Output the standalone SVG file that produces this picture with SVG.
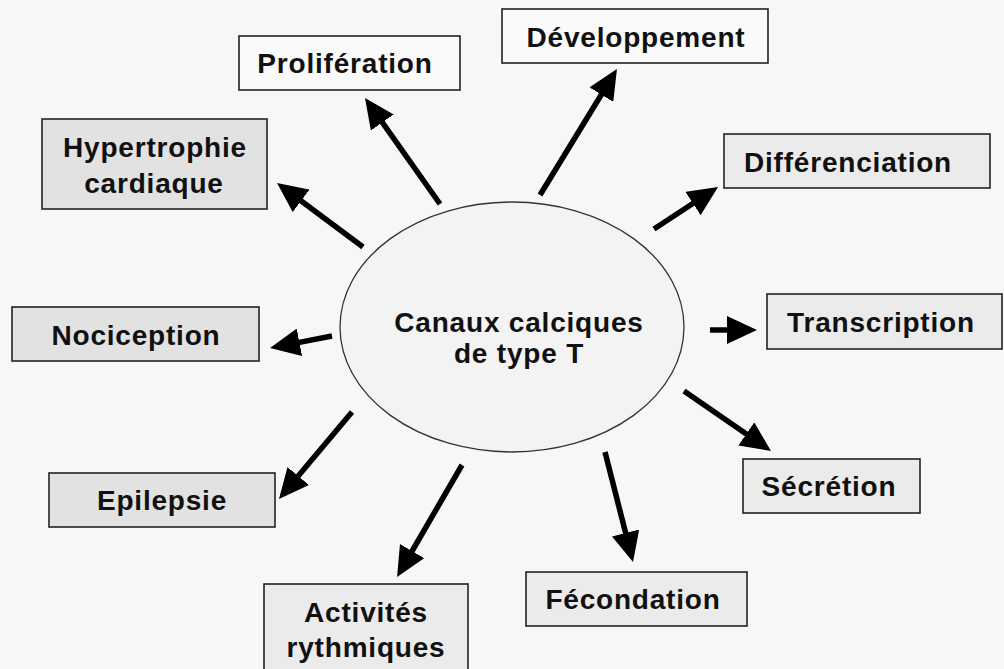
<svg xmlns="http://www.w3.org/2000/svg" width="1004" height="669" viewBox="0 0 1004 669">
<defs>
<style>
.bg{fill:#f7f7f7}
.box{stroke:#222;stroke-width:1.6}
.w{fill:#fafafa}
.g1{fill:#e2e2e2}
.g2{fill:#ebebeb}
.t{font-family:"Liberation Sans",Arial,sans-serif;font-weight:bold;font-size:28px;letter-spacing:0.8px;fill:#111;text-anchor:middle}
.arr{stroke:#000;stroke-width:5.5;fill:none;marker-end:url(#ah)}
</style>
<marker id="ah" markerUnits="userSpaceOnUse" markerWidth="30" markerHeight="28" refX="4" refY="14" orient="auto" viewBox="0 0 30 28">
<path d="M0,0 L30,14 L0,28 z" fill="#000"/>
</marker>
</defs>
<rect class="bg" x="0" y="0" width="1004" height="669"/>

<g id="center">
<ellipse cx="512" cy="327" rx="172" ry="125" fill="#f3f3f3" stroke="#333" stroke-width="1.3"/>
<text class="t" x="519" y="332">Canaux calciques</text>
<text class="t" x="519" y="363">de type T</text>
</g>

<g id="proliferation">
<rect class="box w" x="239" y="36" width="221" height="54"/>
<text class="t" x="345" y="73">Prolifération</text>
</g>
<g id="hypertrophie">
<rect class="box g1" x="42" y="119" width="225" height="90"/>
<text class="t" x="155" y="157">Hypertrophie</text>
<text class="t" x="154" y="193">cardiaque</text>
</g>
<g id="nociception">
<rect class="box g1" x="12" y="307" width="247" height="54"/>
<text class="t" x="136" y="345">Nociception</text>
</g>
<g id="epilepsie">
<rect class="box g1" x="49" y="473" width="226" height="54"/>
<text class="t" x="162" y="510">Epilepsie</text>
</g>
<g id="activites">
<rect class="box g2" x="264" y="584" width="204" height="95"/>
<text class="t" x="366" y="622">Activités</text>
<text class="t" x="366" y="657">rythmiques</text>
</g>
<g id="developpement">
<rect class="box w" x="502" y="9" width="266" height="54"/>
<text class="t" x="636" y="47">Développement</text>
</g>
<g id="differenciation">
<rect class="box g2" x="724" y="134" width="266" height="54"/>
<text class="t" x="848" y="172">Différenciation</text>
</g>
<g id="transcription">
<rect class="box g2" x="767" y="294" width="235" height="55"/>
<text class="t" x="881" y="332">Transcription</text>
</g>
<g id="secretion">
<rect class="box g2" x="743" y="459" width="177" height="54"/>
<text class="t" x="829" y="496">Sécrétion</text>
</g>
<g id="fecondation">
<rect class="box g2" x="526" y="572" width="221" height="54"/>
<text class="t" x="633" y="609">Fécondation</text>
</g>

<g id="connectors">
<line class="arr" x1="440" y1="204" x2="380" y2="119.2"/>
<line class="arr" x1="363" y1="247" x2="297.9" y2="198.5"/>
<line class="arr" x1="540" y1="195" x2="603.4" y2="91.2"/>
<line class="arr" x1="654" y1="229" x2="696.3" y2="201.3"/>
<line class="arr" x1="710" y1="330" x2="731" y2="330"/>
<line class="arr" x1="332" y1="336" x2="295.5" y2="343.1"/>
<line class="arr" x1="352" y1="412" x2="295.7" y2="479.1"/>
<line class="arr" x1="462" y1="465" x2="410.1" y2="554.5"/>
<line class="arr" x1="605" y1="452" x2="626.6" y2="536.8"/>
<line class="arr" x1="684" y1="391" x2="749.6" y2="436.2"/>
</g>
</svg>
